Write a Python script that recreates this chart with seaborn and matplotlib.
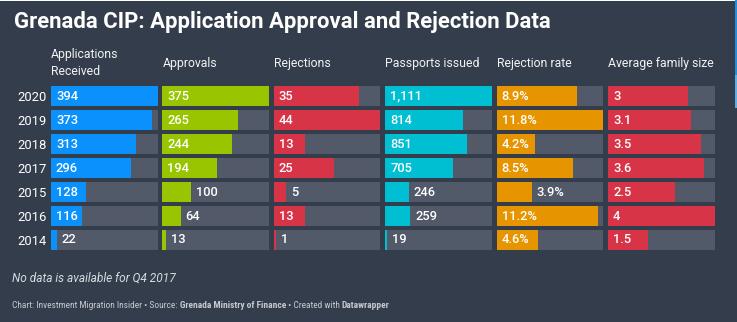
import matplotlib
matplotlib.use("Agg")
import matplotlib.pyplot as plt
import seaborn as sns
import pandas as pd
from matplotlib.patches import Rectangle
from matplotlib.transforms import offset_copy
from matplotlib import font_manager as fm

# ---------------- data ----------------
years = ["2020", "2019", "2018", "2017", "2015", "2016", "2014"]
applications = [394, 373, 313, 296, 128, 116, 22]
approvals = [375, 265, 244, 194, 100, 64, 13]
rejections = [35, 44, 13, 25, 5, 13, 1]
passports = [1111, 814, 851, 705, 246, 259, 19]
rejection_rate = [8.9, 11.8, 4.2, 8.5, 3.9, 11.2, 4.6]
family_size = [3, 3.1, 3.5, 3.6, 2.5, 4, 1.5]

headers = ["Applications\nReceived", "Approvals", "Rejections",
           "Passports issued", "Rejection rate", "Average family size"]
title = "Grenada CIP: Application Approval and Rejection Data"
note = "No data is available for Q4 2017"

columns = [applications, approvals, rejections, passports, rejection_rate, family_size]
formats = ["{:,.0f}", "{:,.0f}", "{:,.0f}", "{:,.0f}", "{:.1f}%", "{:g}"]
colors = ["#0a91fb", "#99c400", "#d73447", "#00bfd2", "#e69500", "#d73447"]

BG = "#343d4c"
TRACK = "#525a69"
W, H = 737, 322

sns.set_theme(style="white")
plt.rcParams["font.family"] = ["Roboto", "DejaVu Sans"]

fig = plt.figure(figsize=(W / 100, H / 100), dpi=100)
fig.patch.set_facecolor(BG)

# column geometry in pixels
col_left0 = 51
col_step = 111.4
col_w = 106.5
ax_top = 84
ax_h = 168

renderer = fig.canvas.get_renderer()
axes = []
for i, (vals, fmt, col, hdr) in enumerate(zip(columns, formats, colors, headers)):
    left = col_left0 + i * col_step
    ax = fig.add_axes([left / W, (H - ax_top - ax_h) / H, col_w / W, ax_h / H])
    ax.set_facecolor("none")
    vmax = max(vals)
    df = pd.DataFrame({"year": years, "value": vals, "track": [vmax] * len(vals)})
    sns.barplot(data=df, x="track", y="year", order=years, orient="h",
                color=TRACK, saturation=1, width=20 / 24, ax=ax, linewidth=0)
    sns.barplot(data=df, x="value", y="year", order=years, orient="h",
                color=col, saturation=1, width=20 / 24, ax=ax, linewidth=0)
    ax.set_xlim(0, vmax)
    ax.set_ylim(len(years) - 0.5, -0.5)
    ax.set_xlabel("")
    ax.set_ylabel("")
    ax.set_xticks([])
    for s in ax.spines.values():
        s.set_visible(False)
    if i == 0:
        ax.tick_params(axis="y", length=0, pad=3, labelsize=9.4, labelcolor="white")
    else:
        ax.set_yticks([])
    # header
    ax.text(0, 1 + 21 / ax_h, hdr, transform=ax.transAxes, ha="left", va="center",
            color="#f2f2f2", fontsize=8.8, linespacing=1.45)
    # value labels: inside the bar when they fit, else just after its end
    for j, v in enumerate(vals):
        t = ax.text(0, j, fmt.format(v), ha="left", va="center", color="white",
                    fontsize=9.3, fontweight="medium",
                    transform=offset_copy(ax.transData, fig=fig, x=5, y=0, units="dots"))
        tw = t.get_window_extent(renderer).width
        bar_px = v / vmax * col_w
        if tw + 9 > bar_px:
            t.set_x(v)
    axes.append(ax)

# title
fig.text(14 / W, 1 - 22 / H, title, ha="left", va="center", color="white",
         fontsize=15.9, fontweight="bold")
# note
fig.text(12 / W, 1 - 278 / H, note, ha="left", va="center", color="#d8dbe0",
         fontsize=8.6, style="italic")

# source line with bold parts (condensed face if one is installed)
names = {f.name for f in fm.fontManager.ttflist}
cond = [n for n in ["Roboto Condensed", "Liberation Sans Narrow", "DejaVu Sans Condensed"]
        if n in names]
src_family = cond + ["Roboto", "DejaVu Sans"]
parts = [("Chart: Investment Migration Insider \u2022 Source: ", "normal"),
         ("Grenada Ministry of Finance", "bold"),
         (" \u2022 Created with ", "normal"),
         ("Datawrapper", "bold")]
target_w = 348.0
size = 7.4
for attempt in range(2):
    x = 12
    texts = []
    for txt, wgt in parts:
        t = fig.text(x / W, 1 - 305 / H, txt, ha="left", va="center", color="#c5c9cf",
                     fontsize=size, fontweight=wgt, family=src_family)
        x += t.get_window_extent(renderer).width
        texts.append(t)
    total = x - 12
    if attempt == 0 and total > target_w * 1.08:
        for t in texts:
            t.remove()
        size = max(6.4, size * (target_w * 1.08) / total)
    else:
        break

# thin edge artifacts of the original screenshot
fig.patches.append(Rectangle((0, 1 - 1 / H), 1, 1 / H, transform=fig.transFigure,
                             facecolor="white", edgecolor="none"))
fig.patches.append(Rectangle((735 / W, 1 - 75 / H), 2 / W, 75 / H, transform=fig.transFigure,
                             facecolor="#1f8fe0", edgecolor="none"))
fig.patches.append(Rectangle((735 / W, 1 - 108 / H), 2 / W, 33 / H, transform=fig.transFigure,
                             facecolor="#5bb0e8", edgecolor="none"))

fig.savefig("out.png", dpi=100, facecolor=BG)
